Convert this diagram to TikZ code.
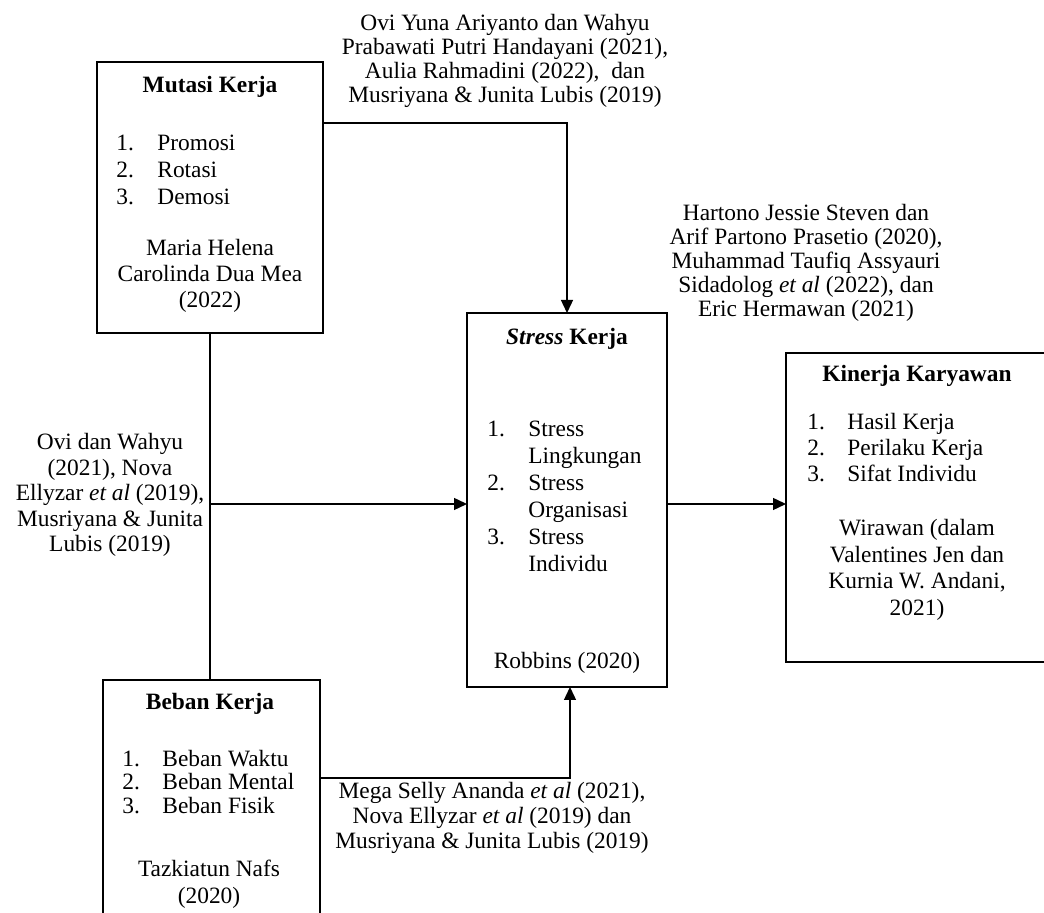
\documentclass[tikz,border=0pt]{standalone}
\usepackage{fontspec}
\setmainfont{Liberation Serif}
\usetikzlibrary{arrows.meta}

\tikzset{
  box/.style={draw, line width=0.7pt, inner sep=0pt, outer sep=0pt},
  txt/.style={inner sep=0pt, font=\fontsize{11.7}{13.5}\selectfont},
  cite/.style={inner sep=0pt, align=center, font=\fontsize{11.7}{#1}\selectfont},
  link/.style={line width=0.7pt},
  arr/.style={link, -{Triangle[length=6.5pt,width=6pt]}}
}

\begin{document}
\begin{tikzpicture}[x=0.5pt, y=-0.5pt]
\useasboundingbox (0,0) rectangle (1044,913);
\clip (0,0) rectangle (1044,913);

% kotak variabel
\node[box, minimum width=113pt, minimum height=135.5pt] (mutasi) at (210,197.5) {};
\node[box, minimum width=100pt, minimum height=187pt] (stress) at (567,500) {};
\node[box, minimum width=131pt, minimum height=154.5pt] (kinerja) at (917,507.5) {};
\node[box, minimum width=108.5pt, minimum height=130pt] (beban) at (211.5,810) {};

% judul
\node[txt, anchor=base] (tmutasi) at (210,93) {\textbf{Mutasi Kerja}};
\node[txt, anchor=base] (tstress) at (567,345) {\textbf{\textit{Stress} Kerja}};
\node[txt, anchor=base] (tkinerja) at (917,382) {\textbf{Kinerja Karyawan}};
\node[txt, anchor=base] (tbeban) at (210,710) {\textbf{Beban Kerja}};

% indikator
\foreach \y/\n/\t [count=\i] in {151/1./Promosi, 178/2./Rotasi, 205/3./Demosi} {
  \node[txt, anchor=base west] (mn\i) at (116,\y) {\n};
  \node[txt, anchor=base west] (mt\i) at (157,\y) {\t};
}
\foreach \y/\n/\t [count=\i] in {437/1./Stress, 464//Lingkungan, 491/2./Stress, 518//Organisasi, 545/3./Stress, 572//Individu} {
  \node[txt, anchor=base west] (sn\i) at (487,\y) {\n};
  \node[txt, anchor=base west] (st\i) at (528,\y) {\t};
}
\foreach \y/\n/\t [count=\i] in {430/1./Hasil Kerja, 456/2./Perilaku Kerja, 482/3./Sifat Individu} {
  \node[txt, anchor=base west] (kn\i) at (807,\y) {\n};
  \node[txt, anchor=base west] (kt\i) at (847,\y) {\t};
}
\foreach \y/\n/\t [count=\i] in {767/1./Beban Waktu, 790/2./Beban Mental, 813/3./Beban Fisik} {
  \node[txt, anchor=base west] (bn\i) at (122,\y) {\n};
  \node[txt, anchor=base west] (bt\i) at (162,\y) {\t};
}

% sumber dalam kotak
\node[cite=13] (smutasi) at (210,276) {Maria Helena\\Carolinda Dua Mea\\(2022)};
\node[txt, anchor=base] (sstress) at (567,669) {Robbins (2020)};
\node[cite=13.3] (skinerja) at (917,570) {Wirawan (dalam\\Valentines Jen dan\\Kurnia W. Andani,\\2021)};
\node[cite=13.5] (sbeban) at (209,884) {Tazkiatun Nafs\\(2020)};

% sumber pada garis
\node[cite=12] (ctop) at (505,61) {Ovi Yuna Ariyanto dan Wahyu\\Prabawati Putri Handayani (2021),\\Aulia Rahmadini (2022), \ dan\\Musriyana \& Junita Lubis (2019)};
\node[cite=12] (cright) at (806,263) {Hartono Jessie Steven dan\\Arif Partono Prasetio (2020),\\Muhammad Taufiq Assyauri\\Sidadolog \textit{et al} (2022), dan\\Eric Hermawan (2021)};
\node[cite=12.75] (cleft) at (110,495) {Ovi dan Wahyu\\(2021), Nova\\Ellyzar \textit{et al} (2019),\\Musriyana \& Junita\\Lubis (2019)};
\node[cite=12.5] (cbottom) at (492,818) {Mega Selly Ananda \textit{et al} (2021),\\Nova Ellyzar \textit{et al} (2019) dan\\Musriyana \& Junita Lubis (2019)};

% garis hubung
\coordinate (branch) at (210,504);
\draw[arr] ([yshift=-30.5pt]mutasi.north east) -| (stress.north);
\draw[link] (mutasi.south) -- (mutasi.south |- beban.north);
\draw[arr] (branch) -- (branch -| stress.west);
\draw[arr] (branch -| stress.east) -- (branch -| kinerja.west);
\draw[arr] ([yshift=-49pt]beban.north east) -| ([xshift=1.5pt]stress.south);
\end{tikzpicture}
\end{document}
